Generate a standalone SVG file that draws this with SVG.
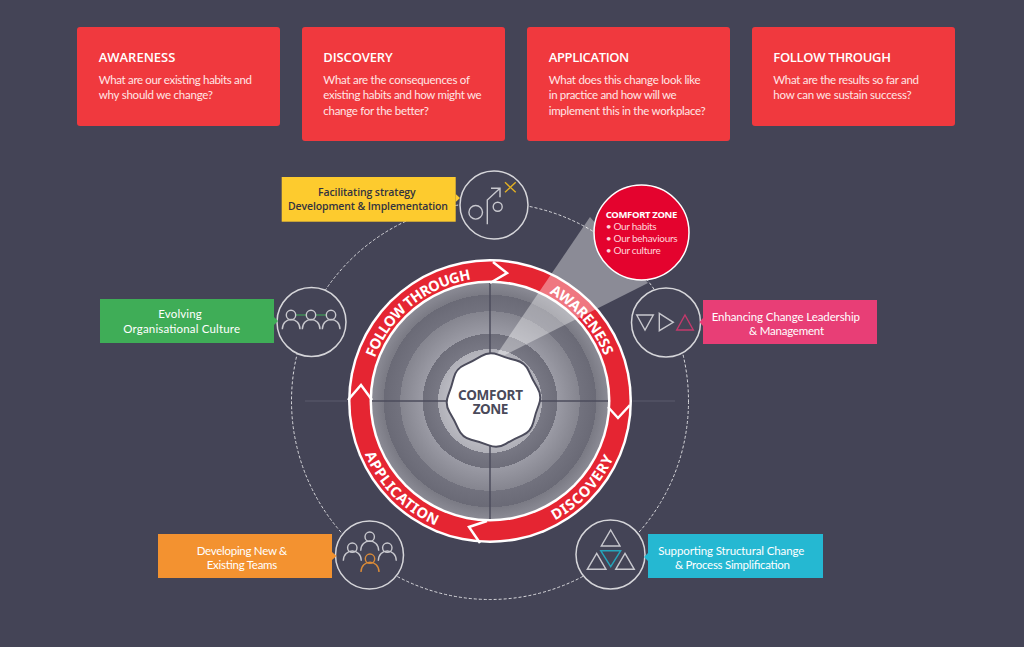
<svg xmlns="http://www.w3.org/2000/svg" width="1024" height="647" viewBox="0 0 1024 647">
<style>
.card{fill:#f0393e}
.ct{font-family:"Open Sans","Liberation Sans",sans-serif;font-size:13px;font-weight:600;fill:#fff}
.cb{font-family:"Lato","Liberation Sans",sans-serif;font-size:11.500px;fill:#ffe6e6}
.lb{font-family:"Lato","Liberation Sans",sans-serif;font-size:11.500px;fill:#fff}
.lbd{font-family:"Open Sans","Liberation Sans",sans-serif;font-size:10.500px;font-weight:600;fill:#33333f}
.ring{font-family:"Noto Sans","Open Sans",sans-serif;font-size:14.500px;font-weight:700;fill:#fff}
.cz{font-family:"Noto Sans",sans-serif;font-size:13.500px;font-weight:700;fill:#4a4a5a;text-anchor:middle}
.co{font-family:"Lato",sans-serif;font-size:10px;fill:#ffd5da}
.ic{fill:#444456;stroke:#d6d6da;stroke-width:1.500}
.icn{fill:none;stroke:#c8c8ce;stroke-width:1.400}
</style>
<defs>
<radialGradient id="band" gradientUnits="userSpaceOnUse" cx="490" cy="401" r="118">
<stop offset="0" stop-color="#e4e4e8"/><stop offset=".44" stop-color="#b0b0b8"/><stop offset=".44" stop-color="#787884"/><stop offset=".57" stop-color="#6e6e7a"/><stop offset=".57" stop-color="#9a9aa4"/><stop offset=".76" stop-color="#85858f"/><stop offset=".76" stop-color="#72727e"/><stop offset=".9" stop-color="#6a6a76"/><stop offset=".9" stop-color="#7a7a84"/><stop offset="1" stop-color="#8a8a94"/>
</radialGradient>
<path id="ft" d="M 374.800 357.900 A 123 123 0 0 1 471.600 279.400"/>
<path id="aw" d="M 549.300 293.200 A 123 123 0 0 1 604.600 356.300"/>
<path id="di" d="M 554.900 520.500 A 136 136 0 0 0 613.600 457.800"/>
<path id="ap" d="M 364.800 454.100 A 136 136 0 0 0 435.800 525.700"/>
</defs>
<rect width="1024" height="647" fill="#444456"/>
<g id="card-awareness"><rect class="card" x="77" y="27" width="203" height="99" rx="3"/><text class="ct" x="98.700" y="62" textLength="76.600">AWARENESS</text><text class="cb" x="98.700" y="84" textLength="153.300">What are our existing habits and</text><text class="cb" x="98.700" y="99.300" textLength="114.300">why should we change?</text></g>
<g id="card-discovery"><rect class="card" x="302" y="27" width="203" height="114" rx="3"/><text class="ct" x="323.300" y="62" textLength="69.400">DISCOVERY</text><text class="cb" x="323.300" y="84" textLength="146.700">What are the consequences of</text><text class="cb" x="323.300" y="99.300" textLength="158.400">existing habits and how might we</text><text class="cb" x="323.300" y="115" textLength="105.700">change for the better?</text></g>
<g id="card-application"><rect class="card" x="527" y="27" width="203" height="114" rx="3"/><text class="ct" x="548.700" y="62" textLength="80.600">APPLICATION</text><text class="cb" x="548.700" y="84" textLength="152">What does this change look like</text><text class="cb" x="548.700" y="99.300" textLength="128">in practice and how will we</text><text class="cb" x="548.700" y="115" textLength="157">implement this in the workplace?</text></g>
<g id="card-follow"><rect class="card" x="752" y="27" width="203" height="99" rx="3"/><text class="ct" x="773.300" y="62" textLength="117.700">FOLLOW THROUGH</text><text class="cb" x="773.300" y="84" textLength="145.700">What are the results so far and</text><text class="cb" x="773.300" y="99.300" textLength="138.400">how can we sustain success?</text></g>
<g id="connectors">
<circle cx="490" cy="401" r="198.500" fill="none" stroke="#d8d8dc" stroke-width="1" stroke-dasharray="3 2"/>
<path d="M305 401H347M633 401H675" stroke="#5a5a6c" stroke-width="1" fill="none"/>
</g>
<g id="wheel">
<circle cx="490" cy="401" r="142" fill="#fff"/>
<circle cx="490" cy="401" r="139.500" fill="#e52532"/>
<circle cx="490" cy="401" r="120.500" fill="#fff"/>
<circle cx="490" cy="401" r="118" fill="url(#band)"/>
<path d="M490 283V519M372 401H608" stroke="#4c4c5c" stroke-width="1.500" fill="none"/>
<polygon points="497,354 590,217 648,283 505,355" fill="#fff" opacity=".38"/>
<path d="M 493 262 L 507 273 L 490 283 M 608 407 L 618 418 L 630 405 M 487 521 L 469 527 L 480 543 M 348 400 L 361 385 L 372 400" fill="none" stroke="#fff" stroke-width="2.500"/>
<path d="M 481.200 356.100 Q 489.200 351.200 498 354.600 Q 506.700 358 515.900 360.300 Q 525 362.500 528.800 371.100 Q 532.500 379.700 537.400 387.700 Q 542.300 395.700 538.900 404.500 Q 535.500 413.200 533.300 422.400 Q 531 431.500 522.400 435.300 Q 513.800 439 505.800 443.900 Q 497.800 448.800 489 445.400 Q 480.300 442 471.200 439.800 Q 462 437.500 458.300 428.900 Q 454.500 420.300 449.600 412.300 Q 444.700 404.300 448.100 395.600 Q 451.500 386.800 453.800 377.700 Q 456 368.500 464.600 364.800 Q 473.200 361 481.200 356.100 Z" fill="#fff" stroke="#4c4c5c" stroke-width="2"/>
<text class="cz" x="490.500" y="399.500" textLength="65">COMFORT</text>
<text class="cz" x="490.500" y="413.500" textLength="35.500">ZONE</text>
<text class="ring"><textPath href="#ft" textLength="130">FOLLOW THROUGH</textPath></text>
<text class="ring"><textPath href="#aw" textLength="85">AWARENESS</textPath></text>
<text class="ring"><textPath href="#di" textLength="87">DISCOVERY</textPath></text>
<text class="ring"><textPath href="#ap" textLength="103">APPLICATION</textPath></text>
</g>
<g id="callout"><circle cx="641.500" cy="232.500" r="47.500" fill="#e4032e" stroke="#fff" stroke-width="1.500"/>
<text x="605.700" y="218.300" font-family="'Noto Sans',sans-serif" font-size="9.500" font-weight="700" fill="#fff" textLength="71.600">COMFORT ZONE</text>
<text class="co" x="605.700" y="230" textLength="51">• Our habits</text><text class="co" x="605.700" y="242.300" textLength="72">• Our behaviours</text><text class="co" x="605.700" y="254" textLength="55">• Our culture</text></g>
<g id="node-strategy"><circle class="ic" cx="494" cy="205" r="34"/><circle class="icn" cx="475.700" cy="212.300" r="6.800"/><circle class="icn" cx="497.700" cy="206.700" r="4.500"/><path class="icn" d="M487.300 224.300V200L500 188.300M491 188.300h9v9"/><path d="M505 182.300l10.700 10M515.700 182.300l-10.700 10" fill="none" stroke="#e2b023" stroke-width="1.400"/>
<rect x="281.700" y="177" width="174" height="44.700" fill="#fdcb2e"/><path d="M455.700 194l4.300 4-4.300 4z" fill="#fdcb2e"/><text class="lbd" x="318" y="196" textLength="97.700">Facilitating strategy</text><text class="lbd" x="288" y="210" textLength="160">Development &amp; Implementation</text></g>
<g id="node-leadership"><circle class="ic" cx="666" cy="322.500" r="34.500"/><path class="icn" d="M636.700 315h16.600L645 330zM659.300 313.300l14 9-14 8.400z"/><path d="M685 315l8.300 15h-16.600z" fill="none" stroke="#c43a6c" stroke-width="1.400"/>
<rect x="703" y="300" width="174" height="44" fill="#e83e76"/><path d="M703 318l-3.500 4 3.500 4z" fill="#e83e76"/><text class="lb" x="711.700" y="320.500" textLength="148.300">Enhancing Change Leadership</text><text class="lb" x="749" y="334.500" textLength="75">&amp; Management</text></g>
<g id="node-structural"><circle class="ic" cx="610.500" cy="554.500" r="34.500"/><path class="icn" d="M610.700 530l9.300 16h-18.700zM596.700 553.300l9.300 16h-18.700zM625 553.300l9.300 16h-18.600z"/><path d="M600.700 550.700h20l-10 16z" fill="none" stroke="#25a5bb" stroke-width="1.400"/>
<rect x="648" y="534" width="175" height="44" fill="#25b8d2"/><path d="M648 553l-4 4 4 4z" fill="#25b8d2"/><text class="lb" x="658.300" y="554.500" textLength="146">Supporting Structural Change</text><text class="lb" x="675" y="568.700" textLength="115">&amp; Process Simplification</text></g>
<g id="node-teams"><circle class="ic" cx="369.500" cy="555" r="34"/><g class="icn"><circle cx="369.700" cy="536.700" r="4.700"/><path d="M360.700 550.700c0-13 18-13 18 0"/><circle cx="352.300" cy="547.700" r="4.700"/><path d="M343.300 560.700c0-13 18-13 18 0"/><circle cx="387.300" cy="547.700" r="4.700"/><path d="M378.300 560.700c0-13 18-13 18 0"/></g><g fill="none" stroke="#d98a38" stroke-width="1.400"><circle cx="370" cy="558.700" r="4.700"/><path d="M361 572c0-13 18-13 18 0"/></g>
<rect x="158" y="534" width="174" height="44" fill="#f39230"/><path d="M332 552l4.500 4-4.500 4z" fill="#f39230"/><text class="lb" x="196.700" y="555" textLength="90.600">Developing New &amp;</text><text class="lb" x="206.700" y="569" textLength="70.600">Existing Teams</text></g>
<g id="node-culture"><circle class="ic" cx="311.500" cy="322" r="34.500"/><path d="M296 315h10M316 315h10" stroke="#3fad57" stroke-width="1.200"/><g class="icn"><circle cx="291" cy="315" r="4.700"/><path d="M282.300 329.300c0-13 17.700-13 17.700 0"/><circle cx="311" cy="315" r="4.700"/><path d="M302.300 329.300c0-13 17.700-13 17.700 0"/><circle cx="331" cy="315" r="4.700"/><path d="M322.300 329.300c0-13 17.700-13 17.700 0"/></g>
<rect x="100" y="299" width="174" height="44" fill="#3fad57"/><path d="M274 317l4 4-4 4z" fill="#3fad57"/><text class="lb" x="158.300" y="318.300" textLength="43.400">Evolving</text><text class="lb" x="123.300" y="332.700" textLength="116.700">Organisational Culture</text></g>
</svg>
